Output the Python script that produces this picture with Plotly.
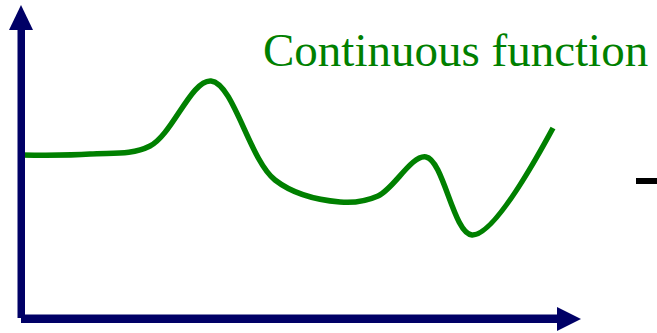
import plotly.graph_objects as go

# curve samples in pixel units (y grows downward)
curve_x = [22, 90, 150, 211, 275, 340, 378, 426, 472, 553]
curve_y = [155, 154, 146, 81, 180, 202, 196, 157, 235, 128]

label = "Continuous function"

W, H = 657, 333
NAVY = "#000066"
GREEN = "#008000"

fig = go.Figure()
fig.add_trace(go.Scatter(
    x=curve_x, y=curve_y, mode="lines",
    line=dict(color=GREEN, width=5.5, shape="spline", smoothing=1.0, simplify=False),
    hoverinfo="skip", showlegend=False,
))

# axes with arrow heads
fig.add_shape(type="rect", x0=17.5, x1=25, y0=29, y1=318, fillcolor=NAVY, line_width=0)
fig.add_shape(type="path", path="M 9 30 L 21 5 L 33 30 Z", fillcolor=NAVY, line_width=0)
fig.add_shape(type="rect", x0=21, x1=558, y0=314.5, y1=323, fillcolor=NAVY, line_width=0)
fig.add_shape(type="path", path="M 557 307 L 581 319 L 557 331 Z", fillcolor=NAVY, line_width=0)
# small dash at right edge
fig.add_shape(type="rect", x0=636, x1=657, y0=178, y1=184, fillcolor="black", line_width=0)

fig.add_annotation(
    x=455, y=68, xref="x", yref="y", text=label, showarrow=False,
    xanchor="center", yanchor="bottom", yshift=-10,
    font=dict(family="Liberation Serif, Times New Roman, serif", size=47, color=GREEN),
)

fig.update_xaxes(range=[0, W], visible=False, fixedrange=True)
fig.update_yaxes(range=[H, 0], visible=False, fixedrange=True)
fig.update_layout(
    width=W, height=H, margin=dict(l=0, r=0, t=0, b=0),
    plot_bgcolor="white", paper_bgcolor="white",
)

fig.write_html(
    "out.html",
    config={"displayModeBar": False},
    post_script="document.body.style.margin='0';document.body.style.overflow='hidden';",
)
